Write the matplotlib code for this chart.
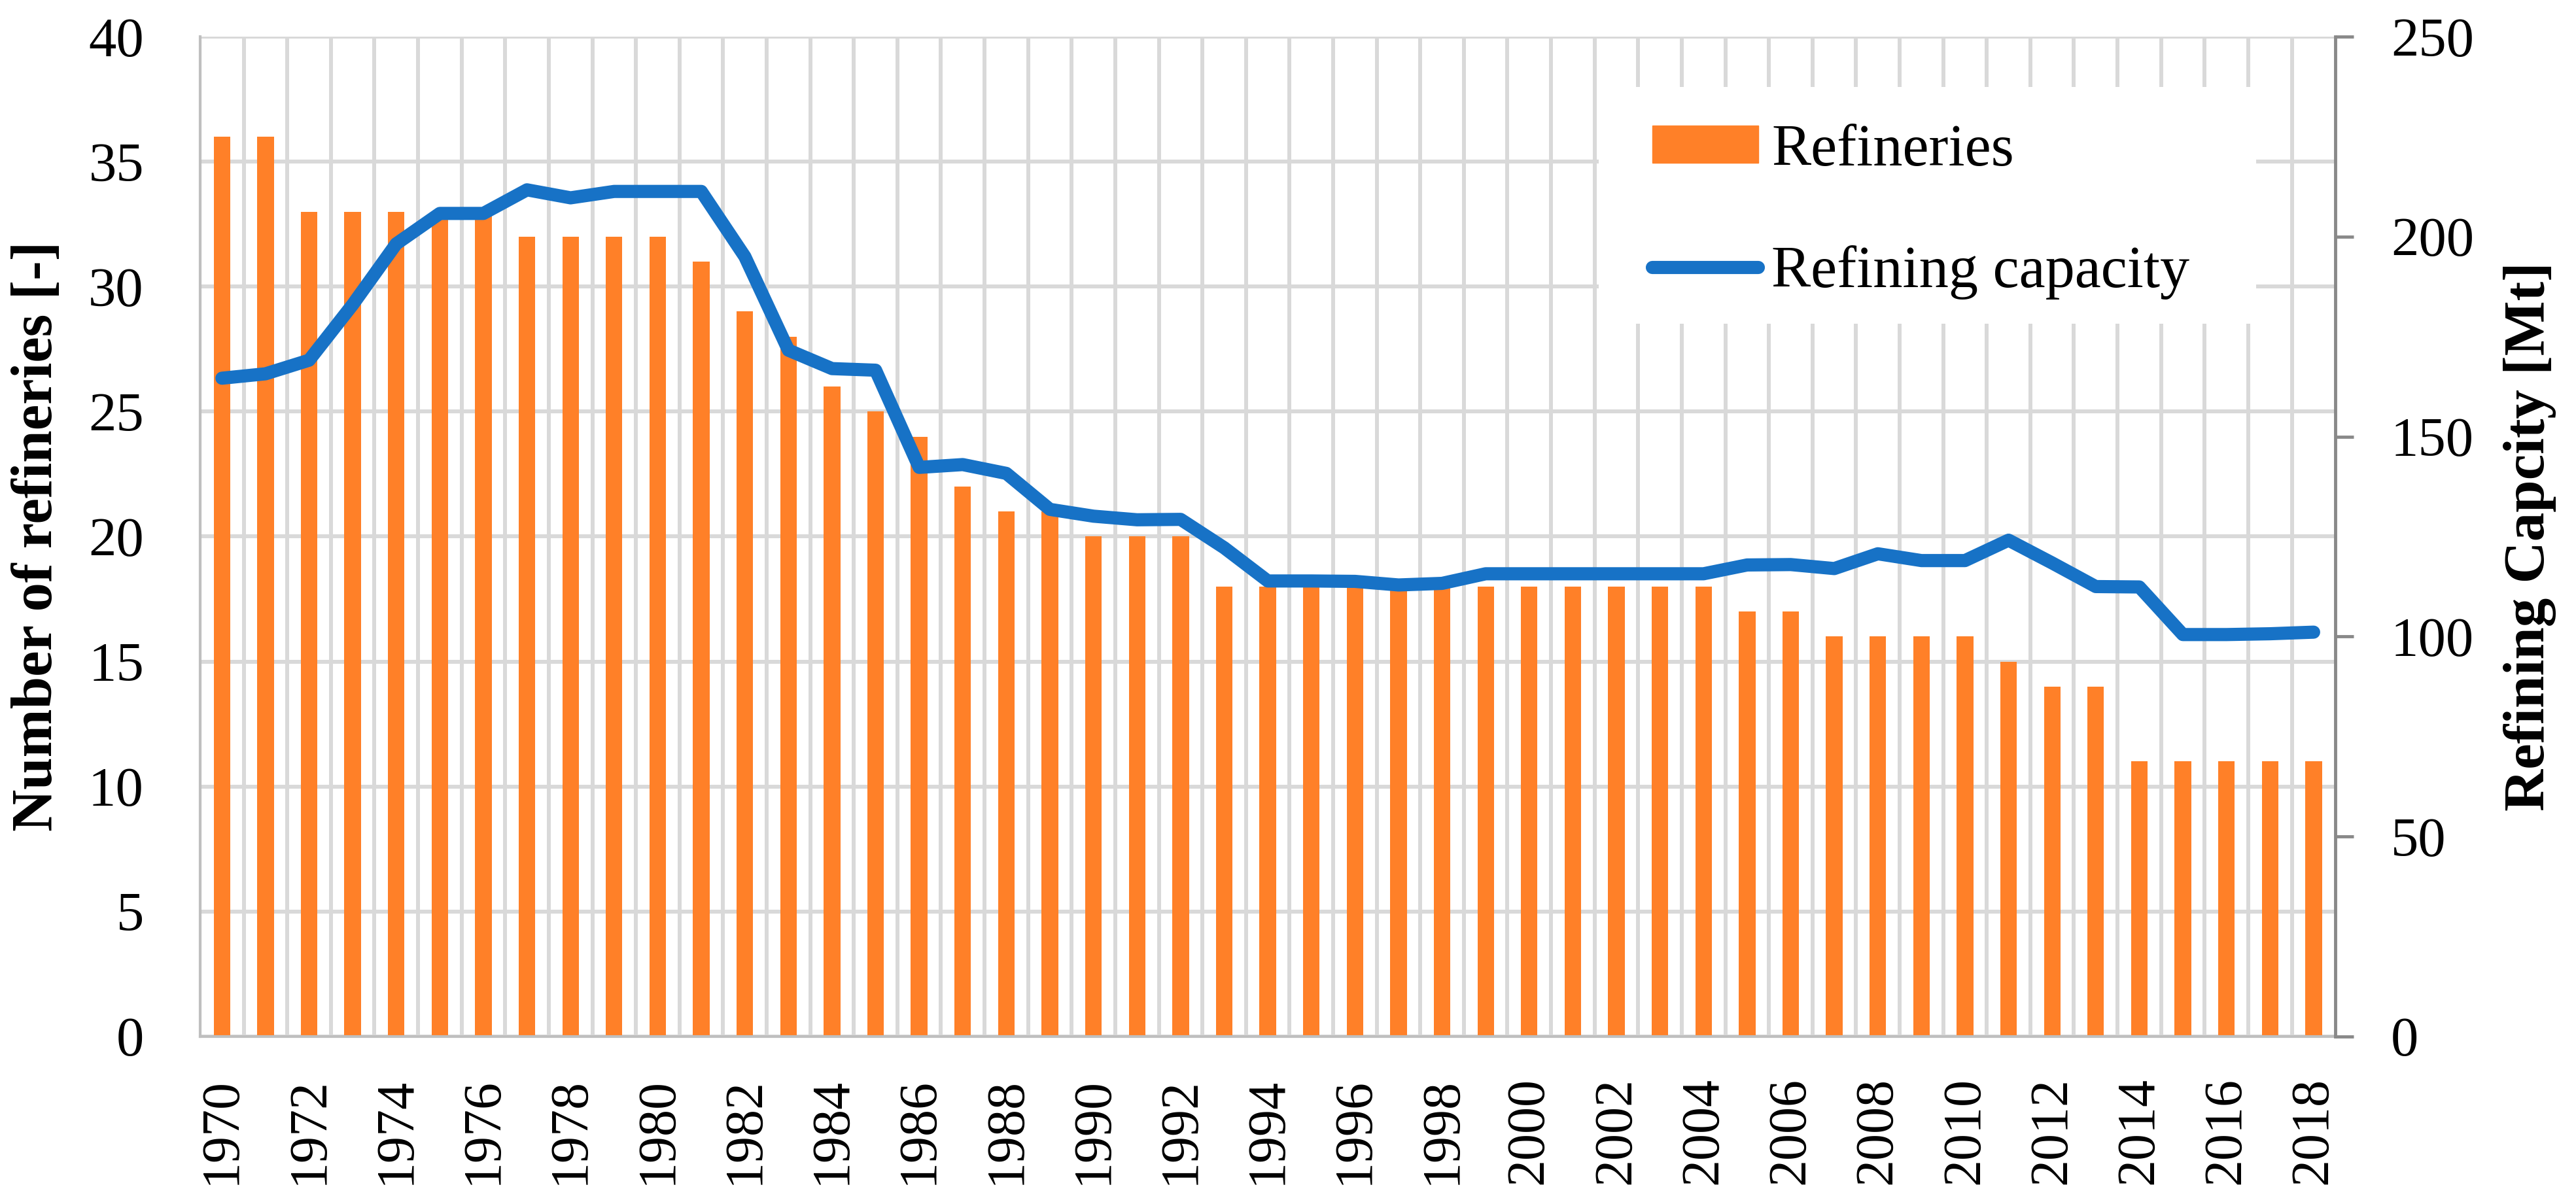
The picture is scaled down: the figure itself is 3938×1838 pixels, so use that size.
import numpy as np
import matplotlib
matplotlib.use("Agg")
import matplotlib.pyplot as plt
from matplotlib.patches import Rectangle

# ─────────────────────────────────────────
# Dati
# ─────────────────────────────────────────

years = list(range(1970, 2019))

refineries = [36, 36, 33, 33, 33, 33, 33, 32, 32, 32, 32, 31, 29, 28, 26, 25,
              24, 22, 21, 21, 20, 20, 20,
              18, 18, 18, 18, 18, 18, 18, 18, 18, 18, 18, 18,
              17, 17, 16, 16, 16, 16, 15, 14, 14, 11, 11, 11, 11, 11]

capacity_mt = [164.6, 165.7, 169.1, 183.0, 198.2, 205.8, 205.8, 211.7, 209.7,
               211.3, 211.3, 211.3, 195.0, 171.6, 167.0, 166.6, 142.3, 143.0,
               140.8, 131.8, 130.1, 129.2, 129.3, 122.2, 113.9, 113.9, 113.8,
               112.9, 113.3, 115.7, 115.7, 115.7, 115.7, 115.7, 115.7, 117.9,
               118.0, 117.0, 120.7, 119.0, 119.0, 124.1, 118.4, 112.5, 112.4,
               100.5, 100.5, 100.7, 101.1]

left_ticks = [0, 5, 10, 15, 20, 25, 30, 35, 40]
right_ticks = [0, 50, 100, 150, 200, 250]

ORANGE = "#FF8028"
BLUE = "#1772C6"
GRID = "#D9D9D9"
AXIS_LIGHT = "#BFBFBF"
AXIS_DARK = "#898989"

plt.rcParams["font.family"] = ["Liberation Serif", "DejaVu Serif"]

# ─────────────────────────────────────────
# Figura
# ─────────────────────────────────────────

fig = plt.figure(figsize=(39.38, 18.38), dpi=100)
ax = fig.add_axes([0.0777, 0.1377, 0.8289, 0.8318])
ax2 = ax.twinx()

x = np.arange(len(years))

ax.bar(x, refineries, width=0.38, color=ORANGE, zorder=2, label="Refineries")
line, = ax2.plot(x, capacity_mt, color=BLUE, lw=14.5,
                 solid_joinstyle="round", solid_capstyle="round",
                 label="Refining capacity")

ax.set_xlim(-0.5, len(years) - 0.5)
ax.set_ylim(0, 40)
ax2.set_ylim(0, 250)

# griglia: orizzontale ogni 5, verticale tra le categorie
ax.set_axisbelow(True)
ax.set_yticks(left_ticks)
ax.yaxis.grid(True, color=GRID, lw=4.3)
ax.set_xticks(x[::2])
ax.set_xticklabels([str(y) for y in years[::2]], rotation=90)
ax.set_xticks(x[:-1] + 0.5, minor=True)
ax.xaxis.grid(True, which="minor", color=GRID, lw=4.3)

ax.tick_params(axis="y", length=0, labelsize=61, pad=62)
ax.tick_params(axis="x", which="both", length=0, labelsize=59, pad=45)

ax2.set_yticks(right_ticks)
ax2.tick_params(axis="y", length=20, width=3.5, color=AXIS_DARK,
                labelsize=61, pad=41)

for a in (ax, ax2):
    a.spines["top"].set_visible(False)
ax.spines["left"].set_color(AXIS_LIGHT)
ax.spines["left"].set_linewidth(3)
ax.spines["bottom"].set_color(AXIS_LIGHT)
ax.spines["bottom"].set_linewidth(3)
ax.spines["right"].set_visible(False)
ax2.spines["left"].set_visible(False)
ax2.spines["bottom"].set_visible(False)
ax2.spines["right"].set_color(AXIS_DARK)
ax2.spines["right"].set_linewidth(3.5)

# etichette assi
fig.text(58 / 3938, 0.554, "Number of refineries [-]", rotation=90,
         ha="center", va="center", fontsize=64, fontweight="bold")
fig.text(3867 / 3938, 0.554, "Refining Capcity [Mt]", rotation=90,
         ha="center", va="center", fontsize=64, fontweight="bold")

# ─────────────────────────────────────────
# Legenda (sfondo bianco sopra la griglia)
# ─────────────────────────────────────────

ax.add_patch(Rectangle((0.655, 0.713), 0.308, 0.237, transform=ax.transAxes,
                       facecolor="white", edgecolor="none", zorder=1.5))

bars_handle = Rectangle((0, 0), 1, 1, color=ORANGE)
ax2.legend([bars_handle, line], ["Refineries", "Refining capacity"],
           loc="upper left", bbox_to_anchor=(0.680, 0.913),
           frameon=False, fontsize=65, handlelength=1.8, handleheight=0.6,
           handletextpad=0.22, labelspacing=1.15, borderpad=0,
           borderaxespad=0)

fig.savefig("out.png", dpi=100)
